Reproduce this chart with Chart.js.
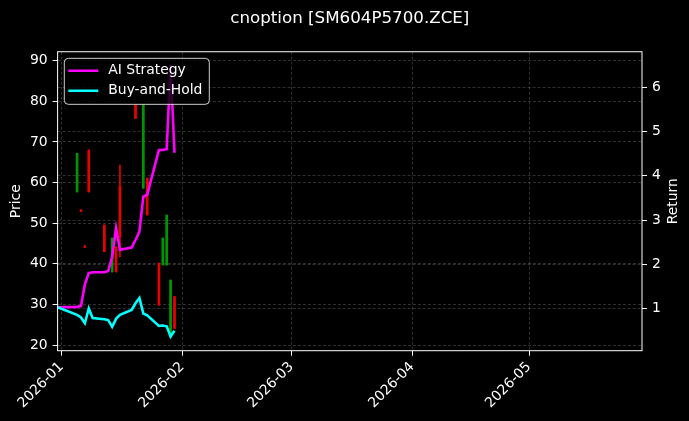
<!DOCTYPE html>
<html>
<head>
<meta charset="utf-8">
<script src="https://cdn.jsdelivr.net/npm/chart.js@4.4.0/dist/chart.umd.min.js"></script>
<style>
    html, body { margin: 0; padding: 0; background: #000; }
</style>
</head>
<body>
<canvas id="chart" width="689" height="421"></canvas>
<script>
// cnoption price candles with AI / buy-and-hold returns

// Daily candles (price axis)
const candleDates = ['2026-01-05', '2026-01-06', '2026-01-07', '2026-01-08', '2026-01-12',
    '2026-01-14', '2026-01-15', '2026-01-16', '2026-01-20', '2026-01-22', '2026-01-23',
    '2026-01-26', '2026-01-27', '2026-01-28', '2026-01-29', '2026-01-30'];
const candleOpen  = [57.7, 53.3, 44.4, 68.0, 49.5, 38.0, 44.2, 59.0, 79.1, 58.6, 61.1, 40.2, 39.7, 39.7, 22.0, 31.9];
const candleClose = [67.2, 52.9, 44.0, 57.7, 43.0, 46.3, 38.0, 46.7, 75.8, 79.1, 52.0, 29.8, 46.3, 52.0, 36.0, 24.1];
const candleHigh  = [67.2, 53.3, 44.4, 68.0, 49.5, 46.3, 44.2, 64.3, 79.1, 79.1, 61.1, 40.2, 46.3, 52.0, 36.0, 31.9];
const candleLow   = [57.7, 52.9, 44.0, 57.7, 43.0, 38.0, 38.0, 41.7, 75.8, 58.6, 52.0, 29.8, 39.7, 39.7, 22.0, 24.1];

// Cumulative returns (return axis)
const lineDates = ['2025-12-31', '2026-01-05', '2026-01-06', '2026-01-07', '2026-01-08', '2026-01-09',
    '2026-01-12', '2026-01-13', '2026-01-14', '2026-01-15', '2026-01-16', '2026-01-19', '2026-01-20',
    '2026-01-21', '2026-01-22', '2026-01-23', '2026-01-26', '2026-01-27', '2026-01-28', '2026-01-29',
    '2026-01-30'];
const aiReturn   = [1.03, 1.04, 1.06, 1.55, 1.80, 1.82, 1.82, 1.85, 2.17, 2.82, 2.33, 2.38, 2.55,
    2.74, 3.53, 3.57, 4.58, 4.58, 4.60, 6.50, 4.52];
const holdReturn = [1.03, 0.86, 0.80, 0.67, 1.00, 0.79, 0.76, 0.74, 0.59, 0.77, 0.86, 0.97, 1.12,
    1.24, 0.89, 0.85, 0.61, 0.62, 0.60, 0.37, 0.50];

const monthTicks  = ['2026-01-01', '2026-02-01', '2026-03-01', '2026-04-01', '2026-05-01'];
const monthLabels = ['2026-01', '2026-02', '2026-03', '2026-04', '2026-05'];
const priceTicks  = [20, 30, 40, 50, 60, 70, 80, 90];
const returnTicks = [1, 2, 3, 4, 5, 6];

const seriesNames  = ['AI Strategy', 'Buy-and-Hold'];
const seriesColors = ['#ff00ff', '#00ffff'];

// days since 2026-01-01
function dayNum(s) {
    const p = s.split('-').map(Number);
    return (Date.UTC(p[0], p[1] - 1, p[2]) - Date.UTC(2026, 0, 1)) / 86400000;
}

const upColor = 'rgb(0, 150, 0)';
const downColor = 'rgb(235, 0, 0)';
const candleColors = candleOpen.map((o, i) => candleClose[i] >= o ? upColor : downColor);

const bodies = candleDates.map((d, i) => ({ x: dayNum(d), y: [candleOpen[i], candleClose[i]] }));
const wicks = candleDates.map((d, i) => ({ x: dayNum(d), y: [candleLow[i], candleHigh[i]] }));
const aiPoints = lineDates.map((d, i) => ({ x: dayNum(d), y: aiReturn[i] }));
const holdPoints = lineDates.map((d, i) => ({ x: dayNum(d), y: holdReturn[i] }));

const FONT = 'DejaVu Sans';

Chart.defaults.font.family = FONT;
Chart.defaults.font.size = 13.9;
Chart.defaults.color = '#ffffff';

function gridOpts() {
    return {
        offset: false,
        color: 'rgba(150, 150, 150, 0.45)',
        lineWidth: 0.7,
        tickColor: '#ffffff',
        tickLength: 5,
        tickWidth: 1,
        tickBorderDash: []
    };
}
const borderOpts = () => ({ display: false, dash: [3, 2] });

const bgPlugin = {
    id: 'bg',
    beforeDraw(chart) {
        const ctx = chart.ctx;
        ctx.save();
        ctx.fillStyle = '#000';
        ctx.fillRect(0, 0, chart.width, chart.height);
        ctx.restore();
    }
};

// white frame, right axis title and legend box inside the plot
const framePlugin = {
    id: 'frame',
    afterDraw(chart) {
        const ctx = chart.ctx;
        const a = chart.chartArea;
        ctx.save();
        ctx.strokeStyle = '#ffffff';
        ctx.lineWidth = 1;
        ctx.strokeRect(a.left, a.top, a.right - a.left, a.bottom - a.top);

        ctx.font = '13.9px "' + FONT + '"';
        ctx.fillStyle = '#ffffff';
        ctx.textAlign = 'center';
        ctx.textBaseline = 'middle';
        ctx.translate(673, (a.top + a.bottom) / 2);
        ctx.rotate(-Math.PI / 2);
        ctx.fillText('Return', 0, 0);
        ctx.restore();

        ctx.save();
        const bx = a.left + 6.7, by = a.top + 6.6, bw = 145, bh = 46, r = 4;
        ctx.beginPath();
        ctx.moveTo(bx + r, by);
        ctx.arcTo(bx + bw, by, bx + bw, by + bh, r);
        ctx.arcTo(bx + bw, by + bh, bx, by + bh, r);
        ctx.arcTo(bx, by + bh, bx, by, r);
        ctx.arcTo(bx, by, bx + bw, by, r);
        ctx.closePath();
        ctx.fillStyle = 'rgba(0, 0, 0, 0.8)';
        ctx.fill();
        ctx.strokeStyle = 'rgba(255, 255, 255, 0.8)';
        ctx.lineWidth = 1;
        ctx.stroke();

        ctx.font = '13.9px "' + FONT + '"';
        ctx.textBaseline = 'middle';
        ctx.textAlign = 'left';
        seriesNames.forEach((name, i) => {
            const y = by + 12.4 + i * 20;
            ctx.strokeStyle = seriesColors[i];
            ctx.lineWidth = 2.5;
            ctx.beginPath();
            ctx.moveTo(bx + 4, y);
            ctx.lineTo(bx + 34, y);
            ctx.stroke();
            ctx.fillStyle = '#ffffff';
            ctx.fillText(name, bx + 44, y);
        });
        ctx.restore();
    }
};

const ctx = document.getElementById('chart').getContext('2d');
const chart = new Chart(ctx, {
    data: {
        datasets: [
            {
                type: 'line',
                label: seriesNames[0],
                data: aiPoints,
                yAxisID: 'y1',
                borderColor: seriesColors[0],
                borderWidth: 2.6,
                pointRadius: 0,
                tension: 0,
                order: 1
            },
            {
                type: 'line',
                label: seriesNames[1],
                data: holdPoints,
                yAxisID: 'y1',
                borderColor: seriesColors[1],
                borderWidth: 2.6,
                pointRadius: 0,
                tension: 0,
                order: 0
            },
            {
                type: 'bar',
                label: 'body',
                data: bodies,
                yAxisID: 'y',
                backgroundColor: candleColors,
                barThickness: 2,
                grouped: false,
                borderWidth: 0,
                order: 2
            },
            {
                type: 'bar',
                label: 'wick',
                data: wicks,
                yAxisID: 'y',
                backgroundColor: candleColors,
                barThickness: 1,
                grouped: false,
                borderWidth: 0,
                order: 3
            }
        ]
    },
    options: {
        responsive: false,
        animation: false,
        layout: { padding: 0 },
        plugins: {
            legend: { display: false },
            tooltip: { enabled: false },
            title: {
                display: true,
                text: 'cnoption [SM604P5700.ZCE]',
                fullSize: false,
                color: '#ffffff',
                font: { family: FONT, size: 16.7, weight: 'normal' },
                padding: { top: 8.3, bottom: 23.4 }
            }
        },
        scales: {
            x: {
                type: 'linear',
                offset: false,
                min: -1,
                max: 149,
                afterBuildTicks: (s) => { s.ticks = monthTicks.map(d => ({ value: dayNum(d) })); },
                afterFit: (s) => { s.height = 70.3; },
                ticks: {
                    autoSkip: false,
                    maxRotation: 45,
                    minRotation: 45,
                    padding: 3,
                    color: '#ffffff',
                    callback: (v) => monthLabels[monthTicks.map(dayNum).indexOf(v)]
                },
                grid: gridOpts(),
                border: borderOpts()
            },
            y: {
                type: 'linear',
                position: 'left',
                min: 18.6,
                max: 92.2,
                afterBuildTicks: (s) => { s.ticks = priceTicks.map(v => ({ value: v })); },
                afterFit: (s) => { s.width = 57.6; },
                ticks: { padding: 5, color: '#ffffff' },
                title: {
                    display: true,
                    text: 'Price',
                    color: '#ffffff',
                    font: { family: FONT, size: 13.9 },
                    padding: { top: 8.4, bottom: 0 }
                },
                grid: gridOpts(),
                border: borderOpts()
            },
            y1: {
                type: 'linear',
                position: 'right',
                min: 0.05,
                max: 6.80,
                afterBuildTicks: (s) => { s.ticks = returnTicks.map(v => ({ value: v })); },
                afterFit: (s) => { s.width = 47; },
                ticks: { padding: 5, color: '#ffffff' },
                grid: gridOpts(),
                border: borderOpts()
            }
        }
    },
    plugins: [bgPlugin, framePlugin]
});
</script>
</body>
</html>
